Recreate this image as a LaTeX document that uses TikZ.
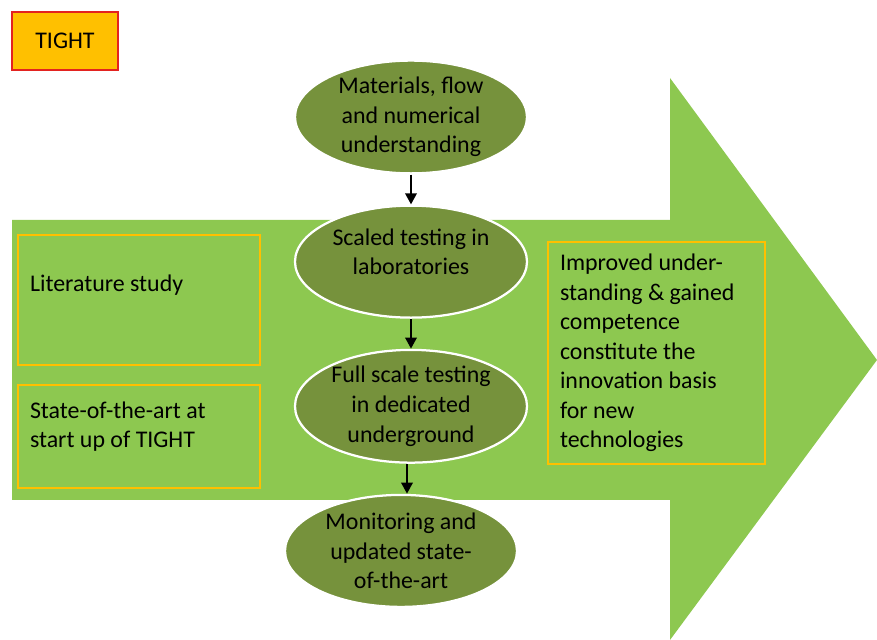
\documentclass[tikz,border=0pt]{standalone}
\usepackage{fontspec}
\setmainfont{Carlito}
\usetikzlibrary{arrows.meta,positioning,shapes.geometric}

\definecolor{leaf}{HTML}{8DC850}
\definecolor{olive}{HTML}{76923C}
\definecolor{gold}{HTML}{FFC000}
\definecolor{alarm}{HTML}{E32320}

% extra depth under a line, lifts the text in its box
\newcommand{\lift}[1]{\rule[-#1]{0pt}{0pt}}

\begin{document}
\begin{tikzpicture}[node distance=0.75cm, auto,
    >={Triangle[length=8pt,width=8pt]},
    every node/.append style={font=\fontsize{17}{21}\selectfont},
    stage/.style={ellipse, draw=white, line width=1.6pt, fill=olive,
                 minimum width=5.8cm, minimum height=2.8cm, align=center,
                 inner sep=0pt},
    box/.style={draw=gold, line width=1.5pt, align=flush left, inner sep=0.3cm},
    flow/.style={->, line width=2pt}]
   \useasboundingbox (0,0) rectangle (21.925,16);
   % big green arrow
   \fill[leaf] (0.3,10.5) -- (16.75,10.5) -- (16.75,14.05) -- (21.925,7.0)
               -- (16.75,0) -- (16.75,3.5) -- (0.3,3.5) -- cycle;
   \node [draw=alarm, line width=2pt, fill=gold, minimum width=2.65cm,
          minimum height=1.45cm] (tight) at (1.625,14.975) {TIGHT};
   % boxes on both sides
   \node [box, minimum width=6.05cm, minimum height=3.25cm, text width=5.45cm]
         (lit) at (3.475,8.5) {Literature study\lift{0.85cm}};
   \node [box, minimum width=6.05cm, minimum height=2.575cm, text width=5.45cm]
         (sota) at (3.475,5.0875) {State-of-the-art at\\start up of TIGHT\lift{0.6cm}};
   \node [box, minimum width=5.425cm, minimum height=5.5cm, text width=4.825cm]
         (out) at (16.4125,7.175)
         {Improved under-\\standing \& gained\\competence\\constitute the\\innovation basis\\for new\\technologies};
   % the chain of ellipses
   \node [stage] (mat) at (10.275,13.075) {Materials, flow\\and numerical\\understanding};
   \node [stage, below=of mat] (lab) {Scaled testing in\\laboratories\lift{0.5cm}};
   \node [stage, below=of lab] (full) {Full scale testing\\in dedicated\\underground};
   \node [stage, below=of full, xshift=-0.25cm] (mon) {Monitoring and\\updated state-\\of-the-art};
   \draw[flow] (mat) -- (lab);
   \draw[flow] (lab) -- (full);
   \draw[flow] ([xshift=-0.1cm]full.south) -- ([xshift=-0.1cm]full.south |- mon.north);
\end{tikzpicture}
\end{document}
